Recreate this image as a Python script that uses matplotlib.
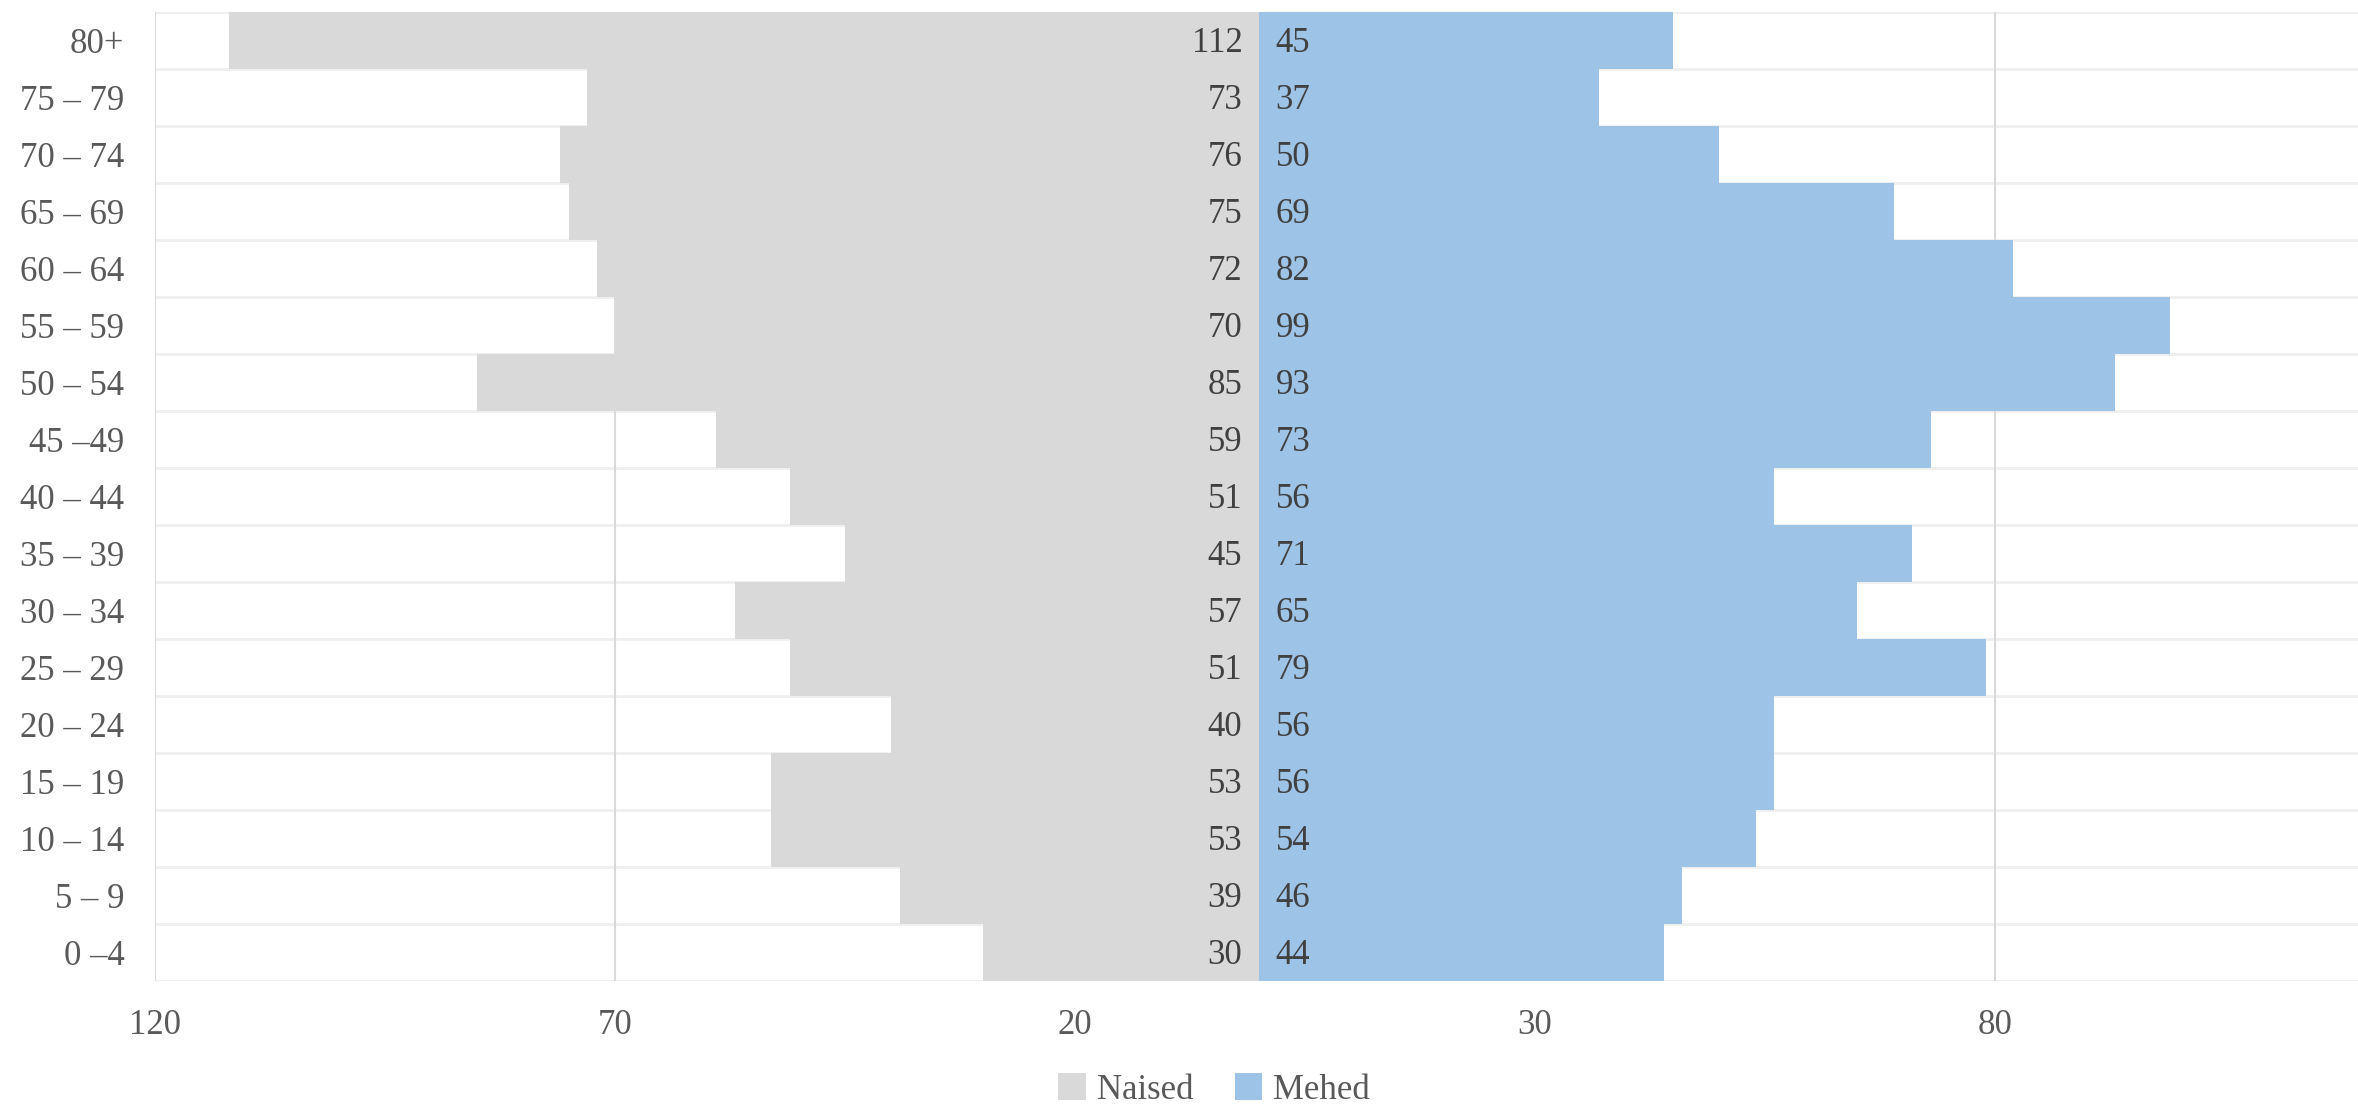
import matplotlib
matplotlib.use("Agg")
import matplotlib.pyplot as plt
from matplotlib.patches import Patch
from matplotlib import font_manager
import numpy as np

categories = ["80+", "75 – 79", "70 – 74", "65 – 69", "60 – 64", "55 – 59", "50 – 54",
              "45 –49", "40 – 44", "35 – 39", "30 – 34", "25 – 29", "20 – 24",
              "15 – 19", "10 – 14", "5 – 9", "0 –4"]
naised = [112, 73, 76, 75, 72, 70, 85, 59, 51, 45, 57, 51, 40, 53, 53, 39, 30]
mehed = [45, 37, 50, 69, 82, 99, 93, 73, 56, 71, 65, 79, 56, 56, 54, 46, 44]
xticks = [-120, -70, -20, 30, 80]
xtick_labels = ["120", "70", "20", "30", "80"]
series_names = ["Naised", "Mehed"]

avail = {f.name for f in font_manager.fontManager.ttflist}
serif_choice = [f for f in ['Liberation Serif', 'DejaVu Serif'] if f in avail]
plt.rcParams['font.family'] = 'serif'
plt.rcParams['font.serif'] = serif_choice + ['DejaVu Serif']

W, H = 2358, 1107
fig = plt.figure(figsize=(W / 100, H / 100), dpi=100)
left, right, top, bottom = 155, 2363, 12, 981
ax = fig.add_axes([left / W, (H - bottom) / H, (right - left) / W, (bottom - top) / H])

n = len(categories)
y = np.arange(n)[::-1]

gray = '#d9d9d9'
blue = '#9dc3e6'

ax.barh(y, [-v for v in naised], height=1.0, color=gray, zorder=2)
ax.barh(y, mehed, height=1.0, color=blue, zorder=2)

# gridlines
for b in np.arange(-0.5, n, 1.0):
    ax.axhline(b, color='#efefef', lw=2, zorder=1)
for t in xticks:
    ax.axvline(t, color='#d9d9d9', lw=1.5, zorder=1)

fs = 25
# data labels
for yi, v in zip(y, naised):
    ax.annotate(str(v), (0, yi), xytext=(-12, -2), textcoords='offset points',
                ha='right', va='center', fontsize=fs, color='#404040', zorder=3)
for yi, v in zip(y, mehed):
    ax.annotate(str(v), (0, yi), xytext=(12, -2), textcoords='offset points',
                ha='left', va='center', fontsize=fs, color='#404040', zorder=3)

ax.set_xlim(-120, 120)
ax.set_ylim(-0.5, n - 0.5)
ax.set_xticks(xticks)
ax.set_xticklabels(xtick_labels, fontsize=fs, color='#595959')
ax.set_yticks(y)
ax.set_yticklabels(categories, fontsize=fs, color='#595959')
ax.tick_params(axis='both', length=0)
ax.tick_params(axis='x', pad=20)
ax.tick_params(axis='y', pad=22)
for s in ax.spines.values():
    s.set_visible(False)

handles = [Patch(facecolor=gray, edgecolor='none'), Patch(facecolor=blue, edgecolor='none')]
leg = fig.legend(handles, series_names, loc='center', ncol=2, frameon=False,
                 bbox_to_anchor=(1214 / W, 1 - 1090 / H), fontsize=fs,
                 handlelength=0.8, handleheight=0.8, handletextpad=0.3,
                 columnspacing=1.2, labelcolor='#595959')

fig.savefig('out.png', dpi=100)
